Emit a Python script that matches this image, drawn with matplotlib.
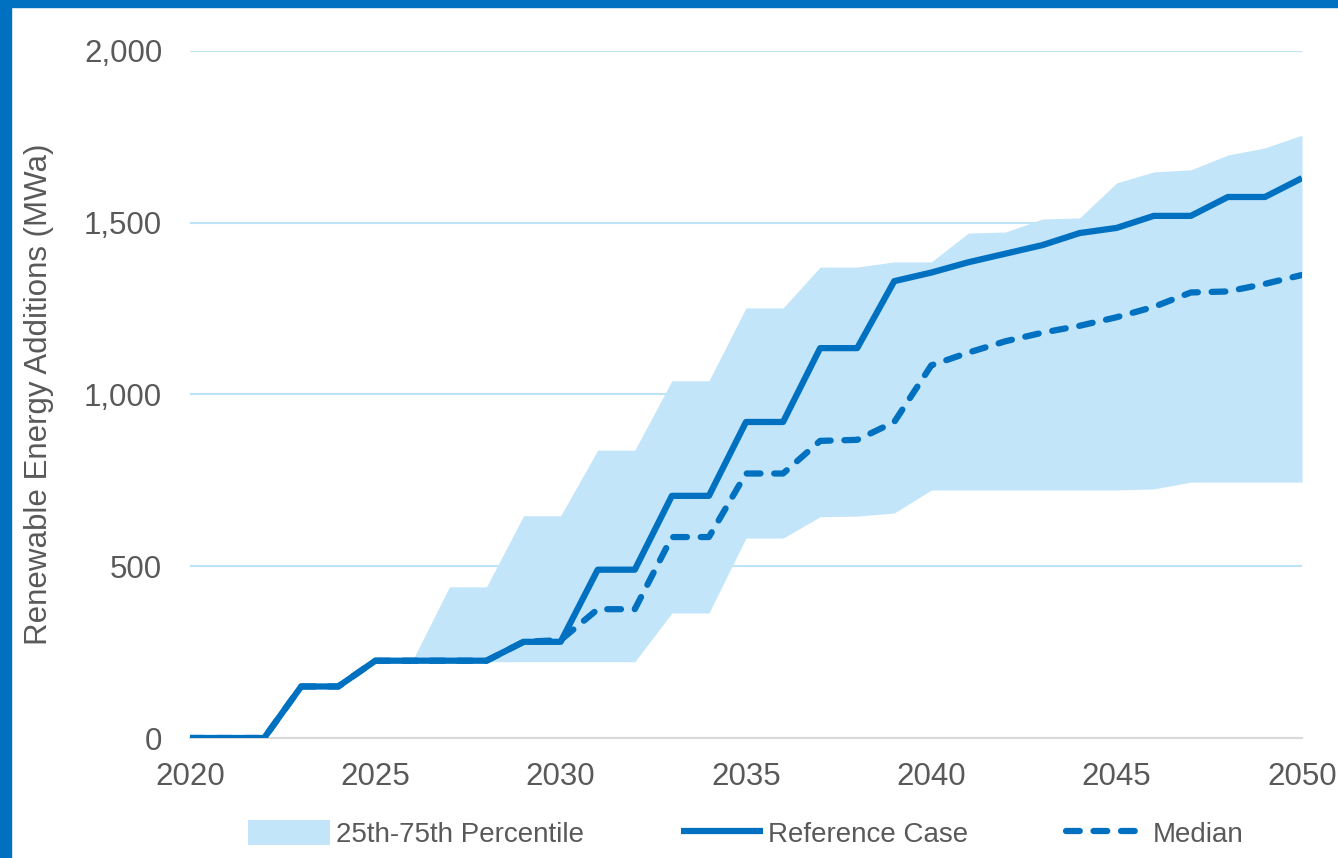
import matplotlib
matplotlib.use("Agg")
import matplotlib.pyplot as plt
from matplotlib.patches import Rectangle

plt.rcParams['font.family'] = ['Liberation Sans', 'DejaVu Sans']

# dados
anos = list(range(2020, 2051))
referencia = [0, 0, 0, 150, 150, 225, 225, 225, 225, 280, 280, 490, 490, 705, 705,
              920, 920, 1135, 1135, 1330, 1355, 1385, 1410, 1435, 1470, 1485,
              1520, 1520, 1575, 1575, 1630]
mediana = [0, 0, 0, 150, 150, 225, 225, 225, 225, 280, 285, 375, 375, 585, 585,
           770, 770, 865, 868, 920, 1085, 1122, 1155, 1180, 1200, 1225,
           1255, 1297, 1300, 1322, 1348]

# faixa 25-75 (a partir de 2026)
anos_faixa = list(range(2026, 2051))
p75 = [225, 440, 440, 647, 647, 838, 838, 1040, 1040, 1252, 1252, 1371, 1371,
       1386, 1386, 1470, 1473, 1511, 1514, 1616, 1648, 1654, 1697, 1718, 1755]
p25 = [225, 222, 222, 222, 222, 222, 222, 364, 364, 582, 582, 644, 646,
       655, 722, 722, 722, 722, 722, 722, 725, 745, 745, 745, 745]

azul = '#0070C0'
azul_claro = '#C2E5FA'
cinza = '#595959'

fig = plt.figure(figsize=(13.38, 8.58), dpi=100)
ax = fig.add_axes([190/1338, 120/858, 1112/1338, 687/858])

ax.fill_between(anos_faixa, p25, p75, color=azul_claro, lw=0, zorder=1,
                label='25th-75th Percentile')
ax.plot(anos, referencia, color=azul, lw=4.5, solid_joinstyle='round',
        solid_capstyle='butt', zorder=3, label='Reference Case')
ax.plot(anos, mediana, color=azul, lw=4.5, linestyle=(0, (2.2, 2.2)),
        dash_capstyle='round', dash_joinstyle='round', zorder=3, label='Median')

ax.set_xlim(2020, 2050)
ax.set_ylim(0, 2000)
ax.set_xticks(range(2020, 2051, 5))
ax.set_yticks(range(0, 2001, 500))
ax.set_yticklabels([f'{v:,}' for v in range(0, 2001, 500)])

for s in ['top', 'right', 'left']:
    ax.spines[s].set_visible(False)
ax.spines['bottom'].set_color('#D9D9D9')
ax.spines['bottom'].set_linewidth(1.5)
ax.spines['bottom'].set_zorder(2)

ax.set_axisbelow(True)
ax.yaxis.grid(True, color='#BDE3F7', lw=1.5)
ax.tick_params(axis='both', length=0, labelsize=22.5, labelcolor=cinza)
ax.tick_params(axis='y', pad=20)
ax.tick_params(axis='x', pad=17)

ax.set_ylabel('Renewable Energy Additions (MWa)', fontsize=22.5, color=cinza)
ax.yaxis.set_label_coords(-0.122, 0.5)

ax.legend(loc='center', bbox_to_anchor=(0.5, -0.14), ncol=3, frameon=False,
          fontsize=20, labelcolor=cinza, handlelength=2.95, handletextpad=0.2,
          columnspacing=3.5, handleheight=1.0)

# moldura azul (topo e esquerda)
fig.patches.append(Rectangle((0, 1 - 7/858), 1, 7/858, transform=fig.transFigure,
                             color=azul, zorder=10))
fig.patches.append(Rectangle((0, 0), 11/1338, 1, transform=fig.transFigure,
                             color=azul, zorder=10))

fig.savefig('out.png', dpi=100)
